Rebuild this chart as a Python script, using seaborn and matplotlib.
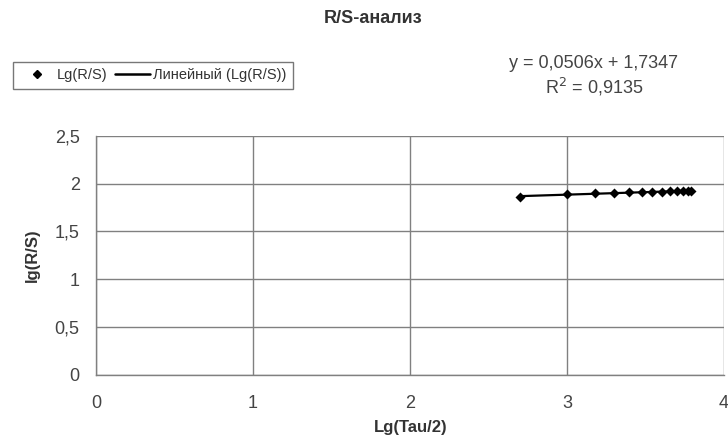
import numpy as np
import pandas as pd
import matplotlib
matplotlib.use('Agg')
import matplotlib.pyplot as plt
import seaborn as sns
from matplotlib.ticker import FuncFormatter, MultipleLocator
from matplotlib.lines import Line2D

# Duomenys (nuskaityti nuo paveikslo)
lg_tau = [2.699, 3.000, 3.176, 3.301, 3.398, 3.477, 3.544, 3.602, 3.653, 3.699, 3.740, 3.772, 3.792]
lg_rs = [1.862, 1.886, 1.896, 1.902, 1.906, 1.910, 1.913, 1.915, 1.917, 1.919, 1.921, 1.922, 1.924]

title = 'R/S-анализ'
x_label = 'Lg(Tau/2)'
y_label = 'lg(R/S)'
eq_text = 'y = 0,0506x + 1,7347'
r2_text = 'R$^2$ = 0,9135'
legend_labels = ['Lg(R/S)', 'Линейный (Lg(R/S))']

df = pd.DataFrame({'x': lg_tau, 'y': lg_rs})

sns.set_style('white')
plt.rcParams['font.family'] = ['Liberation Sans', 'DejaVu Sans']

fig = plt.figure(figsize=(7.28, 4.46), dpi=100)
ax = fig.add_axes([0.1319, 0.1599, 0.8626, 0.5358])

# Tiesinis trendas
coef = np.polyfit(df['x'], df['y'], 1)
xs = np.array([df['x'].min(), df['x'].max()])
ax.plot(xs, np.polyval(coef, xs), color='black', lw=1.6, zorder=3)

sns.scatterplot(data=df, x='x', y='y', marker='D', s=26, color='black',
                edgecolor='black', linewidth=0, ax=ax, zorder=4)

ax.set_xlim(0, 4)
ax.set_ylim(0, 2.5)
ax.xaxis.set_major_locator(MultipleLocator(1))
ax.yaxis.set_major_locator(MultipleLocator(0.5))
comma = FuncFormatter(lambda v, p: ('%g' % v).replace('.', ','))
ax.xaxis.set_major_formatter(comma)
ax.yaxis.set_major_formatter(comma)

ax.grid(True, color='#808080', lw=1)
for s in ['top', 'right']:
    ax.spines[s].set_visible(False)
for s in ['left', 'bottom']:
    ax.spines[s].set_color('#808080')
    ax.spines[s].set_linewidth(1)
ax.tick_params(axis='both', direction='out', length=4.8, width=1, color='#808080',
               labelsize=13, labelcolor='#444444')
ax.tick_params(axis='x', pad=10)
ax.tick_params(axis='y', pad=7)
ax.set_xlabel('')
ax.set_ylabel('')

fig.text(0.5646, 0.0426, x_label, ha='center', va='center', fontsize=12,
         fontweight='bold', color='#333333')
fig.text(0.044, 0.428, y_label, ha='center', va='center', rotation=90, fontsize=12,
         fontweight='bold', color='#333333')

fig.text(0.512, 0.958, title, ha='center', va='center', fontsize=13, color='#333333',
         fontweight='bold')
fig.text(0.8146, 0.8587, eq_text, ha='center', va='center', fontsize=13, color='#444444')
fig.text(0.8166, 0.805, r2_text, ha='center', va='center', fontsize=13, color='#444444')

handles = [Line2D([], [], marker='D', color='black', ls='none', markersize=4.5),
           Line2D([], [], color='black', lw=1.8)]
leg = fig.legend(handles, legend_labels, loc='upper left',
                 bbox_to_anchor=(0.0175, 0.862), ncol=2, frameon=True, fancybox=False,
                 fontsize=10.5, handlelength=2.4, columnspacing=0.5, handletextpad=0.2,
                 borderpad=0.45, borderaxespad=0)
leg.get_frame().set_edgecolor('#555555')
leg.get_frame().set_linewidth(1)
for t in leg.get_texts():
    t.set_color('#333333')

fig.savefig('out.png', dpi=100)
